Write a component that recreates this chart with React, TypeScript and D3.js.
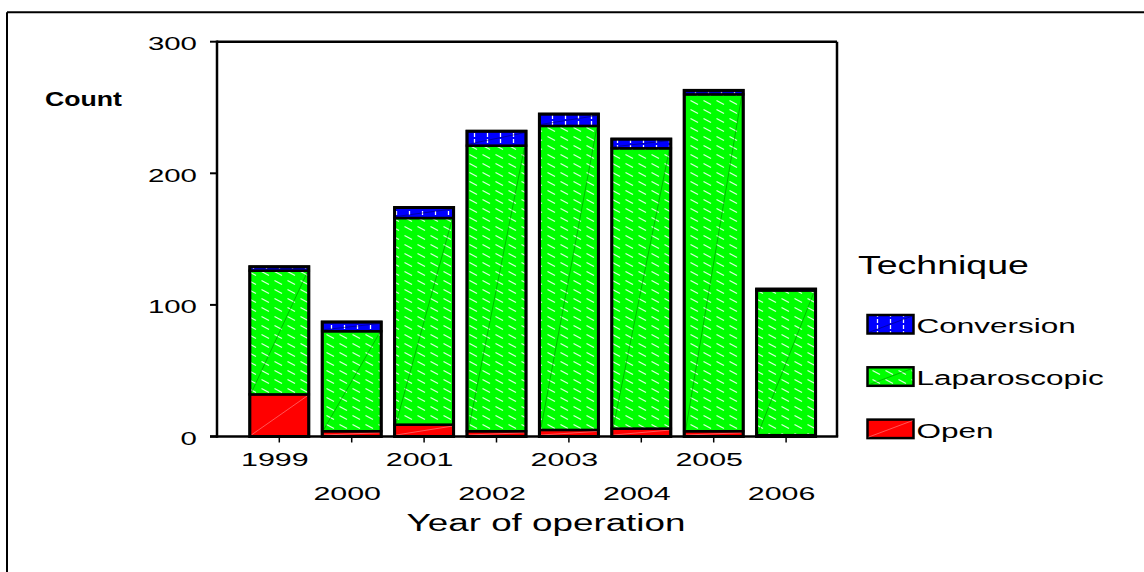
import React from 'react';
import * as d3 from 'd3';

const years = ['1999', '2000', '2001', '2002', '2003', '2004', '2005', '2006'];
const openCounts = [32, 4, 9, 4, 5, 6, 4, 1];
const lapCounts = [94, 76, 157, 217, 231, 213, 256, 110];
const convCounts = [3, 7, 8, 11, 9, 7, 3, 1];
const seriesKeys = ['Open', 'Laparoscopic', 'Conversion'];
const legendKeys = ['Conversion', 'Laparoscopic', 'Open'];
const yTicks = [0, 100, 200, 300];

const FONT = '"Liberation Sans", Arial, Helvetica, sans-serif';

const fills: Record<string, string> = {
  Open: '#ff0000',
  Laparoscopic: 'url(#patGreen)',
  Conversion: 'url(#patBlue)',
};
const diagColors: Record<string, string> = {
  Open: '#ff9a9a',
  Laparoscopic: '#008800',
  Conversion: '#000066',
};

function SText(props: {
  x: number; y: number; sx: number; size: number; anchor?: string; weight?: string; children: React.ReactNode;
}) {
  const { x, y, sx, size, anchor = 'start', weight = 'normal', children } = props;
  return (
    <text
      transform={`translate(${x},${y}) scale(${sx},1)`}
      textAnchor={anchor}
      fontSize={size}
      fontWeight={weight}
      fontFamily={FONT}
      fill="#000"
    >
      {children}
    </text>
  );
}

export default function App() {
  const table = years.map((yr, i) => ({
    year: yr,
    Open: openCounts[i],
    Laparoscopic: lapCounts[i],
    Conversion: convCounts[i],
  }));
  const stacked = d3.stack<any>().keys(seriesKeys)(table);

  const y = d3.scaleLinear().domain([0, 300]).range([436.5, 41.7]);
  const x = d3
    .scaleBand<string>()
    .domain(years)
    .range([243.1, 822.3])
    .paddingInner(0.185)
    .paddingOuter(0.0925);
  const bw = x.bandwidth();

  const plotL = 217;
  const plotR = 837;
  const plotT = y(300);
  const plotB = y(0);

  return (
    <svg
      width={1144}
      height={572}
      style={{ position: 'absolute', left: 0, top: 0, background: '#fff' }}
    >
      <defs>
        <pattern id="patGreen" patternUnits="userSpaceOnUse" width={13} height={9}>
          <rect width={13} height={9} fill="#00ff00" />
          <line x1={1.5} y1={1.5} x2={9} y2={5.5} stroke="#ffffff" strokeWidth={1.3} opacity={0.85} />
        </pattern>
        <pattern id="patBlue" patternUnits="userSpaceOnUse" width={13} height={12}>
          <rect width={13} height={12} fill="#0000ff" />
          <line x1={6.5} y1={1} x2={6.5} y2={5} stroke="#ffffff" strokeWidth={1.3} />
          <line x1={6.5} y1={7} x2={6.5} y2={11} stroke="#ffffff" strokeWidth={1.3} />
        </pattern>
      </defs>

      {/* outer frame */}
      <line x1={7} y1={12.3} x2={1144} y2={12.3} stroke="#000" strokeWidth={2} />
      <line x1={7} y1={12.3} x2={7} y2={572} stroke="#000" strokeWidth={2} />

      {/* bars */}
      {stacked.map((layer) => (
        <g key={layer.key}>
          {layer.map((d: any, i: number) => {
            const x0 = x(years[i])!;
            const yTop = y(d[1]);
            const yBot = y(d[0]);
            return (
              <g key={i}>
                <rect
                  x={x0}
                  y={yTop}
                  width={bw}
                  height={Math.max(0, yBot - yTop)}
                  fill={fills[layer.key]}
                  stroke="#000"
                  strokeWidth={2.5}
                />
                <line
                  x1={x0 + 1.5}
                  y1={yBot - 1.5}
                  x2={x0 + bw - 1.5}
                  y2={yTop + 1.5}
                  stroke={diagColors[layer.key]}
                  strokeWidth={0.7}
                  opacity={0.8}
                />
              </g>
            );
          })}
        </g>
      ))}
      {table.map((d, i) => {
        const total = d.Open + d.Laparoscopic + d.Conversion;
        return (
          <rect
            key={'o' + i}
            x={x(d.year)!}
            y={y(total)}
            width={bw}
            height={y(0) - y(total)}
            fill="none"
            stroke="#000"
            strokeWidth={3}
          />
        );
      })}

      {/* plot frame / axes */}
      <line x1={plotL} y1={plotT} x2={plotR} y2={plotT} stroke="#000" strokeWidth={2.5} />
      <line x1={plotR} y1={plotT} x2={plotR} y2={plotB} stroke="#000" strokeWidth={2.5} />
      <line x1={plotL} y1={plotT - 1.2} x2={plotL} y2={plotB + 1.2} stroke="#000" strokeWidth={2.5} />
      <line x1={210} y1={plotB} x2={plotR + 1.2} y2={plotB} stroke="#000" strokeWidth={2.5} />

      {/* y ticks */}
      {yTicks.map((t) => (
        <g key={t}>
          <line x1={210} y1={y(t)} x2={plotL} y2={y(t)} stroke="#000" strokeWidth={2} />
          <SText x={197} y={y(t) + 8.5} sx={1.55} size={19} anchor="end">
            {String(t)}
          </SText>
        </g>
      ))}

      {/* x ticks */}
      {years.map((yr, i) => {
        const cx = x(yr)! + bw / 2;
        return (
          <g key={yr}>
            <line x1={cx} y1={plotB} x2={cx} y2={plotB + 6} stroke="#000" strokeWidth={1.5} />
            <SText x={cx - 4.5} y={i % 2 === 0 ? 466 : 500} sx={1.6} size={19} anchor="middle">
              {yr}
            </SText>
          </g>
        );
      })}

      {/* axis titles */}
      <SText x={546} y={531} sx={1.6} size={23} anchor="middle">
        Year of operation
      </SText>
      <SText x={45} y={106} sx={1.27} size={21} weight="bold">
        Count
      </SText>

      {/* legend */}
      <SText x={858} y={274} sx={1.5} size={25}>
        Technique
      </SText>
      {legendKeys.map((k, i) => {
        const top = 315 + i * 52.3;
        return (
          <g key={k}>
            <rect x={867.5} y={top} width={46} height={18.5} fill={fills[k]} stroke="#000" strokeWidth={2.5} />
            <line
              x1={868.5}
              y1={top + 17.5}
              x2={912.5}
              y2={top + 1}
              stroke={diagColors[k]}
              strokeWidth={0.7}
              opacity={0.8}
            />
            <SText x={916.5} y={top + 18} sx={1.5} size={21}>
              {k}
            </SText>
          </g>
        );
      })}
    </svg>
  );
}
